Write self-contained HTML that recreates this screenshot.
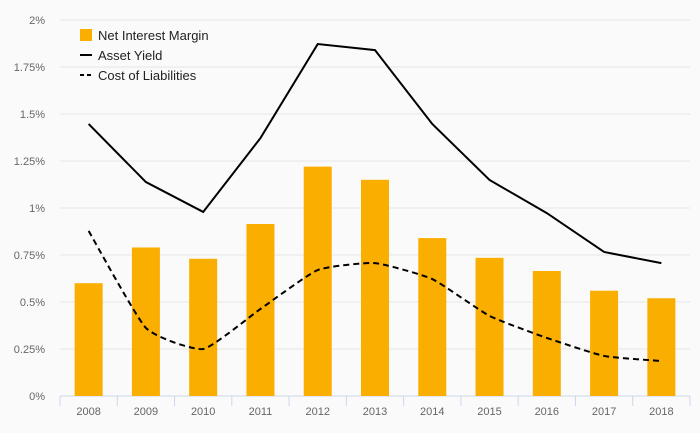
<!DOCTYPE html>
<html><head><meta charset="utf-8"><style>
body{margin:0;background:#fafafa;}
svg{display:block;font-family:"Liberation Sans",sans-serif;}
</style></head><body>
<svg id="chart" width="700" height="433">
<rect width="700" height="433" fill="#fafafa"/>
<g id="grid"></g>
<g id="bars"></g>
<g id="lines"></g>
<g id="axes"></g>
<g font-size="13" fill="#222">
 <g><rect x="80" y="29" width="12" height="12" fill="#f9ae00"/><text x="98" y="40">Net Interest Margin</text></g>
 <g><line x1="80" y1="55" x2="92" y2="55" stroke="#000" stroke-width="2"/><text x="98" y="60">Asset Yield</text></g>
 <g><line x1="80" y1="75" x2="92" y2="75" stroke="#000" stroke-width="2" stroke-dasharray="4,3"/><text x="98" y="80">Cost of Liabilities</text></g>
</g>
</svg>
<script>
const categories=["2008","2009","2010","2011","2012","2013","2014","2015","2016","2017","2018"];
const nim=[0.60,0.79,0.73,0.915,1.22,1.15,0.84,0.735,0.665,0.56,0.52];
const assetYield=[1.447,1.138,0.979,1.372,1.872,1.84,1.447,1.149,0.973,0.766,0.707];
const costLiab=[0.878,0.362,0.25,0.463,0.67,0.707,0.622,0.426,0.309,0.213,0.186];
const yTicks=[0,0.25,0.5,0.75,1,1.25,1.5,1.75,2];
const yLabels=["0%","0.25%","0.5%","0.75%","1%","1.25%","1.5%","1.75%","2%"];
const NS="http://www.w3.org/2000/svg";
const x0=60,x1=690,y0=396,y1=20;
const step=(x1-x0)/categories.length;
const X=i=>x0+step*(i+0.5);
const Y=v=>y0-(v/2)*(y0-y1);
function mk(t,a,p){const e=document.createElementNS(NS,t);for(const k in a)e.setAttribute(k,a[k]);p.appendChild(e);return e;}
const grid=document.getElementById('grid'),axes=document.getElementById('axes');
yTicks.forEach((t,i)=>{
 const l=mk('line',{x1:x0,x2:x1,y1:Y(t),y2:Y(t),stroke:i==0?'#ccd6eb':'#e6e6e6','stroke-width':1},grid);
 
 
 const tx=mk('text',{x:45,y:Y(t)+4,'text-anchor':'end','font-size':11,fill:'#666'},axes);
 tx.textContent=yLabels[i];
 
 
});
for(let i=0;i<=categories.length;i++){
 const tk=mk('line',{x1:x0+step*i,x2:x0+step*i,y1:y0,y2:y0+10,stroke:'#ccd6eb'},axes);
 
 
}
categories.forEach((c,i)=>{
 const tx=mk('text',{x:X(i),y:415,'text-anchor':'middle','font-size':11,fill:'#666'},axes);
 tx.textContent=c;
 
 
});
const bars=document.getElementById('bars');
nim.forEach((v,i)=>{
 const r=mk('rect',{x:X(i)-14,y:Y(v),width:28,height:y0-Y(v),fill:'#f9ae00'},bars);
 
 
});
const lines=document.getElementById('lines');
const pa=assetYield.map((v,i)=>(i?'L':'M')+X(i)+','+Y(v)).join('');
const a=mk('path',{d:pa,fill:'none',stroke:'#000','stroke-width':2},lines);


function smooth(vals){
 const p=vals.map((v,i)=>[X(i),Y(v)]);let d='M'+p[0];
 for(let i=0;i<p.length-1;i++){
  const p0=p[i-1]||p[i],p1=p[i],p2=p[i+1],p3=p[i+2]||p2,s=0.08;
  d+='C'+(p1[0]+(p2[0]-p0[0])*s)+','+(p1[1]+(p2[1]-p0[1])*s)+' '+(p2[0]-(p3[0]-p1[0])*s)+','+(p2[1]-(p3[1]-p1[1])*s)+' '+p2;
 }return d;}
const c=mk('path',{d:smooth(costLiab),fill:'none',stroke:'#000','stroke-width':2,'stroke-dasharray':'6,4'},lines);


</script>
</body></html>
